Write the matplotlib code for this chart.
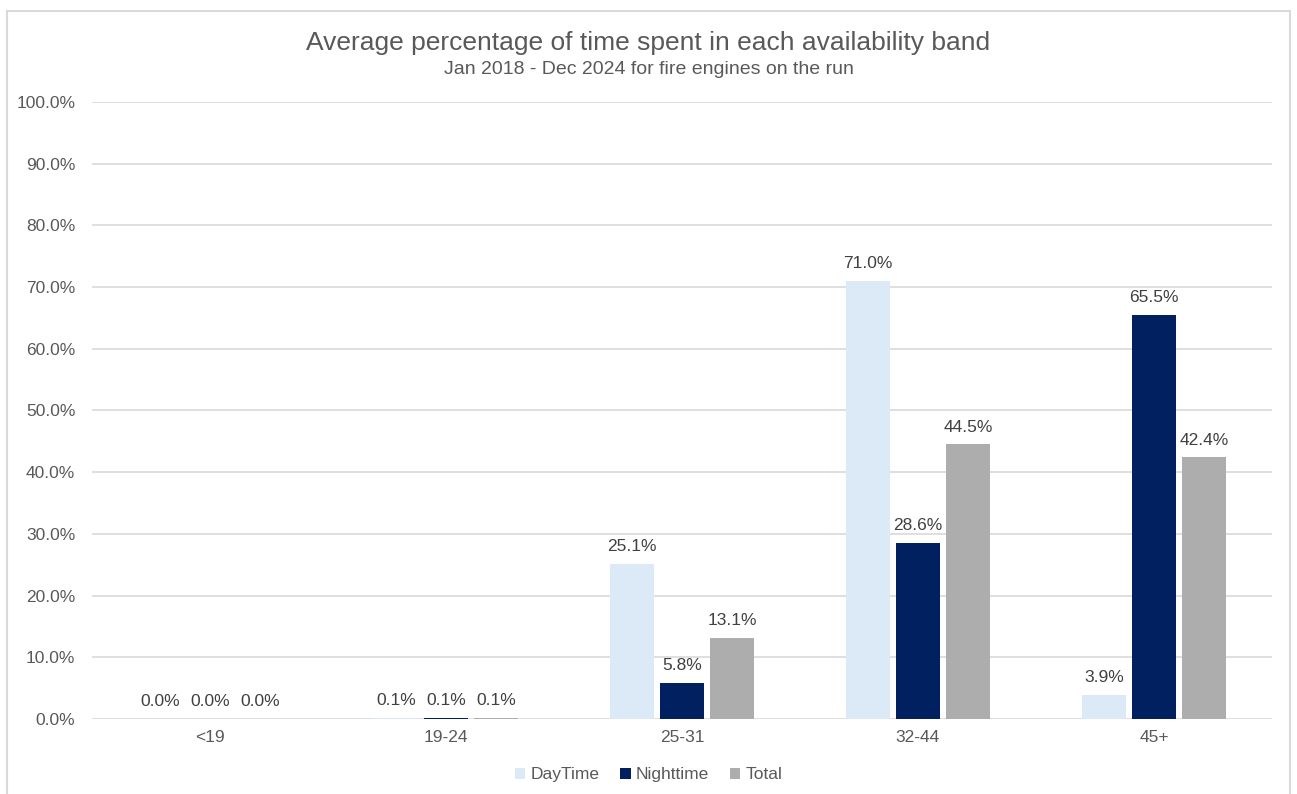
import numpy as np
import matplotlib.pyplot as plt
from matplotlib.patches import Rectangle, Patch
from matplotlib.ticker import FuncFormatter

plt.rcParams['font.family'] = ['Liberation Sans', 'DejaVu Sans']

bands = ["<19", "19-24", "25-31", "32-44", "45+"]
daytime = [0.0, 0.1, 25.1, 71.0, 3.9]
nighttime = [0.0, 0.1, 5.8, 28.6, 65.5]
total = [0.0, 0.1, 13.1, 44.5, 42.4]

series = [
    ("DayTime", daytime, "#dce9f6"),
    ("Nighttime", nighttime, "#002060"),
    ("Total", total, "#adadad"),
]

text_col = "#595959"
grid_col = "#d9d9d9"

fig = plt.figure(figsize=(12.97, 7.94), dpi=100)
ax = fig.add_axes([0.0709, 0.0945, 0.9098, 0.777])

x = np.arange(len(bands))
width = 0.186
step = 0.212
for i, (name, vals, col) in enumerate(series):
    pos = x + (i - 1) * step
    bars = ax.bar(pos, vals, width=width, color=col, label=name, zorder=3)
    for b, v in zip(bars, vals):
        ax.text(b.get_x() + b.get_width() / 2, v + 1.6, f"{v:.1f}%",
                ha="center", va="bottom", fontsize=12.5, color="#404040")

ax.set_xlim(-0.5, len(bands) - 0.5)
ax.set_ylim(0, 100)
ax.set_yticks(np.arange(0, 101, 10))
ax.yaxis.set_major_formatter(FuncFormatter(lambda v, p: f"{v:.1f}%"))
ax.set_xticks(x)
ax.set_xticklabels(bands)
ax.tick_params(axis="both", length=0, labelsize=12.5, colors=text_col)
ax.tick_params(axis="y", pad=12)
ax.tick_params(axis="x", pad=8)
ax.grid(axis="y", color=grid_col, linewidth=1.2, zorder=0)
for s in ax.spines.values():
    s.set_visible(False)

fig.text(0.5, 0.946, "Average percentage of time spent in each availability band",
         ha="center", va="center", fontsize=19, color=text_col)
fig.text(0.5, 0.913, "Jan 2018 - Dec 2024 for fire engines on the run",
         ha="center", va="center", fontsize=14, color=text_col)

handles = [Patch(facecolor=c, label=n) for n, _, c in series]
fig.legend(handles=handles, loc="center", bbox_to_anchor=(0.5, 0.024), ncol=3,
           frameon=False, fontsize=12.5, labelcolor=text_col,
           handlelength=0.6, handleheight=0.6, handletextpad=0.3, columnspacing=1.2)

# outer chart frame
fig.patches.append(Rectangle((7 / 1297, -0.05), (1290 - 7) / 1297, 1.05 - 11 / 794,
                             transform=fig.transFigure, fill=False,
                             edgecolor=grid_col, linewidth=1.5))

fig.savefig("out.png", dpi=100)
